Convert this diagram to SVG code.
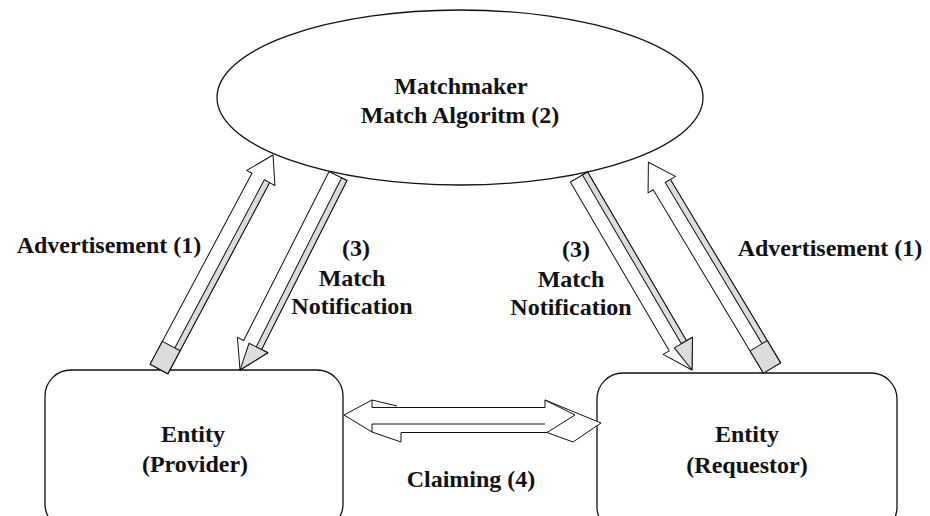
<svg xmlns="http://www.w3.org/2000/svg" width="930" height="516" viewBox="0 0 930 516">
  <style>
    .shape { fill: #ffffff; stroke: #111111; stroke-width: 1.3; }
    .face { fill: #ffffff; stroke: #111111; stroke-width: 1; stroke-linejoin: round; }
    .side { fill: #dcdcdc; stroke: #111111; stroke-width: 1; stroke-linejoin: round; }
    .edge { fill: none; stroke: #111111; stroke-width: 1; }
    text { font-family: "Liberation Serif", "Times New Roman", serif; font-weight: bold; font-size: 24px; fill: #111111; text-anchor: middle; }
  </style>
  <rect width="930" height="516" fill="#ffffff"/>

  <!-- Matchmaker -->
  <g id="matchmaker">
    <ellipse class="shape" cx="460" cy="97.5" rx="243" ry="87.5"/>
    <text x="461" y="94">Matchmaker</text>
    <text x="460" y="123">Match Algoritm (2)</text>
  </g>

  <!-- Entity (Provider) -->
  <g id="provider">
    <rect class="shape" x="45" y="370" width="298" height="160" rx="26" ry="26"/>
    <text x="193" y="442">Entity</text>
    <text x="195" y="472">(Provider)</text>
  </g>

  <!-- Entity (Requestor) -->
  <g id="requestor">
    <rect class="shape" x="597" y="373" width="300" height="160" rx="26" ry="26"/>
    <text x="747" y="442">Entity</text>
    <text x="747" y="473">(Requestor)</text>
  </g>

  <!-- Block arrows between the nodes -->
  <g id="connectors">
    <!-- Provider to Matchmaker: advertisement -->
    <g id="adv-provider" transform="translate(159,369) rotate(-61.95)">
      <path class="face" d="M0,-10 H216.5 V-16 L242.5,0 L216.5,16 V10 H0 Z"/>
      <path class="side" d="M0,4 H216.5 V10 H0 Z"/>
      <path class="side" d="M0,-10 H26 V10 H0 Z"/>
    </g>
    <!-- Matchmaker to Provider: match notification -->
    <g id="notify-provider" transform="translate(338,176) rotate(116.8)">
      <path class="face" d="M0,-10 H189.4 V-17 L217.4,0 L189.4,17 V10 H0 Z"/>
      <path class="side" d="M0,-10 H189.4 V-4 H0 Z"/>
      <path class="side" d="M189.4,-17 L217.4,0 L189.4,4 Z"/>
    </g>
    <!-- Matchmaker to Requestor: match notification -->
    <g id="notify-requestor" transform="translate(579,177) rotate(59.65)">
      <path class="face" d="M0,-10 H195.6 V-17 L223.6,0 L195.6,17 V10 H0 Z"/>
      <path class="side" d="M0,-10 H195.6 V-4 H0 Z"/>
      <path class="side" d="M195.6,-17 L223.6,0 L195.6,4 Z"/>
    </g>
    <!-- Requestor to Matchmaker: advertisement -->
    <g id="adv-requestor" transform="translate(772,368) rotate(-121)">
      <path class="face" d="M0,-10 H214 V-16 L240,0 L214,16 V10 H0 Z"/>
      <path class="side" d="M0,4 H214 V10 H0 Z"/>
      <path class="side" d="M0,-10 H26 V10 H0 Z"/>
    </g>
    <!-- Provider to Requestor: claiming (double-headed, extruded) -->
    <g id="claiming">
      <path class="face" d="M344,415 L372,400 L372,407.5 L545,407.5 L545,400 L601,423 L573,442 L547,432.5 L401,432.5 L401,442 L372,432 Z"/>
      <path class="edge" d="M372,424 H545 M372,424 V432 M372,400 L397,406 M545,400 L575,415 L547,432.5"/>
    </g>
  </g>

  <!-- Connector labels -->
  <g id="labels">
    <text x="109" y="253">Advertisement (1)</text>
    <text x="356" y="256">(3)</text>
    <text x="352" y="286">Match</text>
    <text x="352" y="314">Notification</text>
    <text x="576" y="257">(3)</text>
    <text x="571" y="287">Match</text>
    <text x="571" y="315">Notification</text>
    <text x="830" y="256">Advertisement (1)</text>
    <text x="471" y="487">Claiming (4)</text>
  </g>
</svg>
